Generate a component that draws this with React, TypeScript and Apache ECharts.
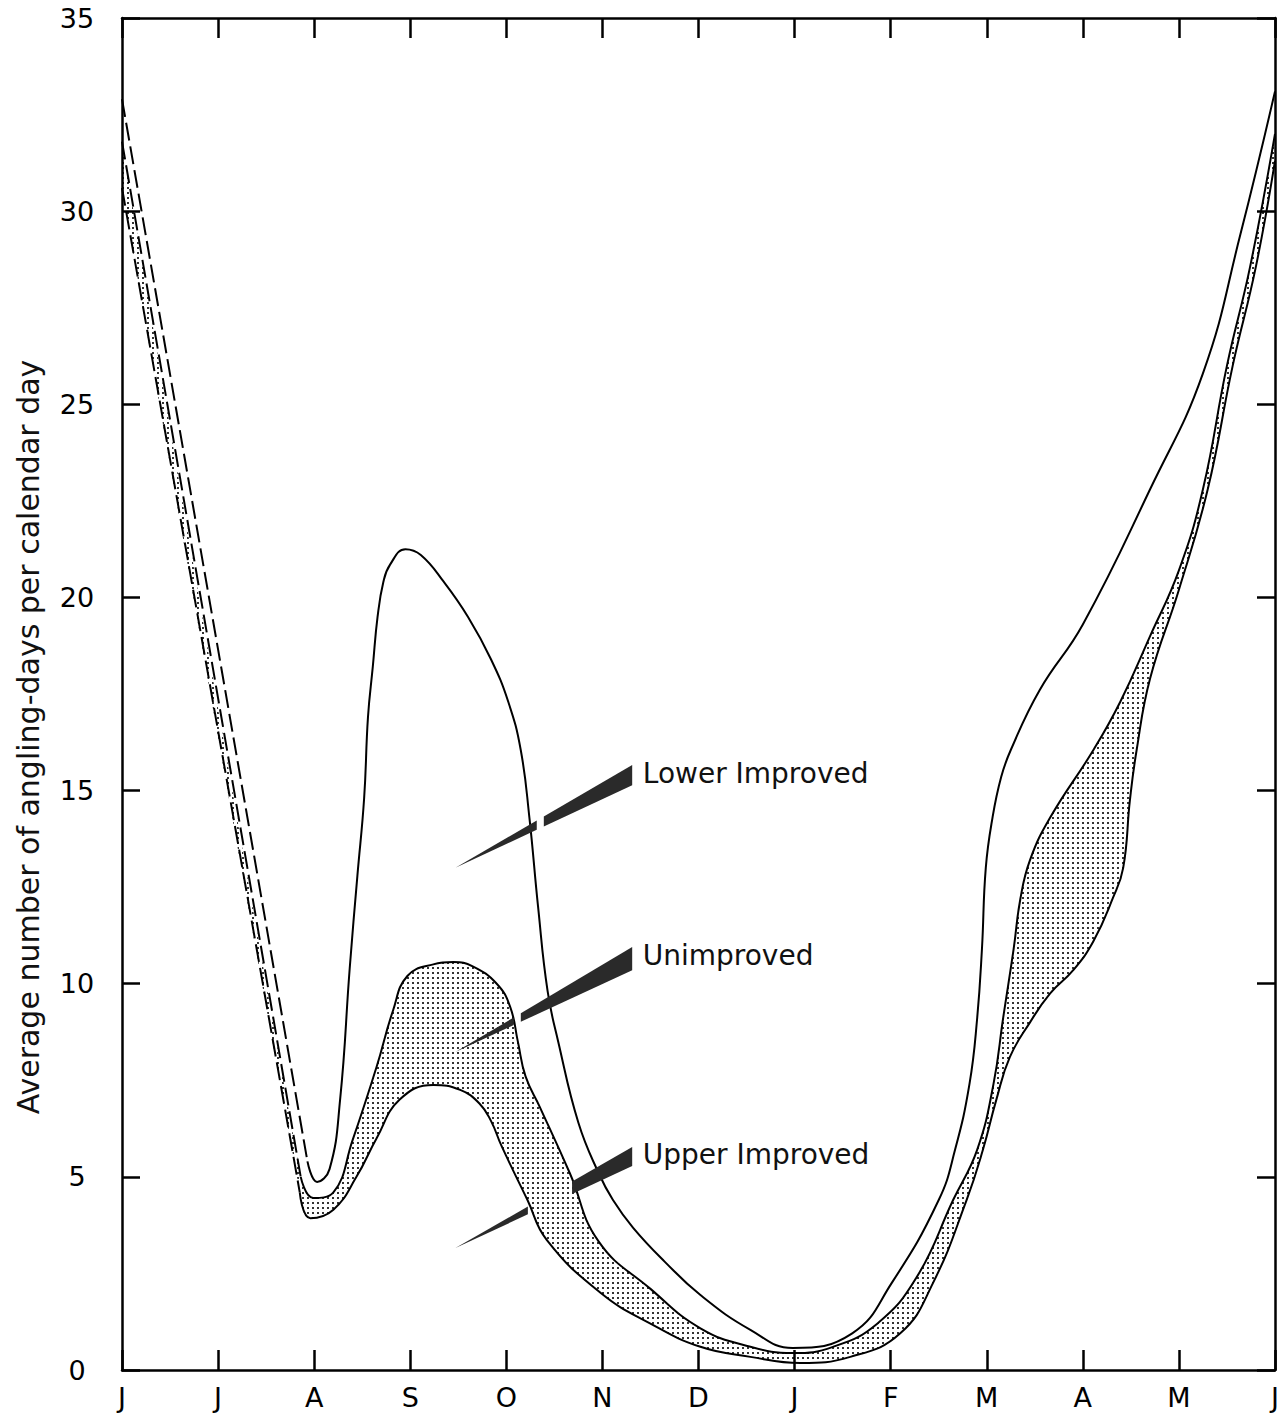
import React, { useEffect, useRef } from "react";
import * as echarts from "echarts";

const MONTHS = ["J", "J", "A", "S", "O", "N", "D", "J", "F", "M", "A", "M", "J"];
const Y_MIN = 0;
const Y_MAX = 35;
const Y_STEP = 5;

// x = months after the first June (0..12), y = angling-days per calendar day
const LOWER_IMPROVED_DASHED = [[0, 32.9], [1.93, 5.4]];
const LOWER_IMPROVED = [
  [1.93, 5.4], [2.03, 4.87], [2.16, 5.2], [2.27, 7.0], [2.37, 10.4], [2.45, 12.8], [2.52, 14.8],
  [2.56, 16.9], [2.61, 18.2], [2.66, 19.5], [2.72, 20.4], [2.79, 20.85], [2.95, 21.25], [3.11, 21.1],
  [3.35, 20.4], [3.6, 19.5], [3.84, 18.4], [4.02, 17.3], [4.15, 16.05], [4.24, 14.3], [4.33, 12.0],
  [4.43, 9.8], [4.54, 8.5], [4.75, 6.4], [4.96, 5.1], [5.11, 4.4], [5.32, 3.68], [5.65, 2.8],
  [6.02, 1.94], [6.54, 1.04], [6.98, 0.57], [7.6, 0.95], [8.01, 2.25], [8.5, 4.4], [8.67, 5.7],
  [8.82, 7.4], [8.9, 9.1], [8.95, 10.9], [8.99, 13.0], [9.06, 14.3], [9.15, 15.35], [9.25, 16.05],
  [9.55, 17.6], [10.0, 19.3], [10.7, 22.8], [11.25, 25.8], [11.64, 29.4], [12, 33.1],
];

const UNIMPROVED_DASHED = [[0, 31.8], [1.86, 5.0]];
const UNIMPROVED = [
  [1.86, 5.0], [1.99, 4.45], [2.2, 4.6], [2.4, 5.95], [2.65, 7.85], [2.82, 9.3], [2.97, 10.2],
  [3.24, 10.5], [3.45, 10.56], [3.65, 10.45], [3.9, 10.0], [4.04, 9.4], [4.12, 8.5], [4.2, 7.6],
  [4.35, 6.8], [4.66, 5.1], [4.96, 3.33], [5.5, 2.1], [6.02, 1.08], [6.54, 0.6], [6.98, 0.44],
  [7.4, 0.6], [7.86, 1.2], [8.27, 2.4], [8.65, 4.4], [8.9, 5.7], [9.07, 7.4], [9.17, 9.1],
  [9.28, 10.9], [9.35, 12.2], [9.45, 13.2], [9.66, 14.3], [10.11, 16.05], [10.39, 17.3],
  [10.7, 19.0], [11.0, 20.7], [11.25, 22.8], [11.5, 26.0], [11.74, 28.55], [12, 32.0],
];

const UPPER_IMPROVED_DASHED = [[0, 30.6], [1.85, 4.6]];
const UPPER_IMPROVED = [
  [1.85, 4.6], [1.96, 3.93], [2.2, 4.15], [2.44, 5.0], [2.65, 6.0], [2.89, 7.0], [3.24, 7.38],
  [3.52, 7.25], [3.72, 6.9], [3.84, 6.45], [3.95, 5.8], [4.22, 4.4], [4.42, 3.37], [4.98, 2.0],
  [5.5, 1.2], [6.02, 0.6], [6.54, 0.34], [7.06, 0.18], [7.58, 0.34], [8.1, 0.95], [8.44, 2.25],
  [8.79, 4.4], [8.96, 5.7], [9.1, 7.0], [9.24, 8.1], [9.45, 9.0], [9.66, 9.75], [9.9, 10.35],
  [10.11, 11.1], [10.31, 12.2], [10.42, 13.0], [10.49, 14.75], [10.56, 16.05], [10.7, 17.9],
  [11.0, 20.2], [11.3, 22.8], [11.56, 26.0], [11.8, 28.55], [12, 31.3],
];

// label pointers (wedges) in data coordinates: tip, thick-top, thick-bottom, label anchor, gaps (fraction of length)
const POINTERS = [
  { name: "Lower Improved", tip: [3.47, 13.0], top: [5.31, 15.66], bottom: [5.31, 15.14], label: [5.42, 15.43], gaps: [[0.46, 0.5]] },
  { name: "Unimproved", tip: [3.47, 8.23], top: [5.31, 10.95], bottom: [5.31, 10.35], label: [5.42, 10.74], gaps: [[0.33, 0.37]] },
  { name: "Upper Improved", tip: [3.47, 3.16], top: [5.31, 5.77], bottom: [5.31, 5.28], label: [5.42, 5.57], gaps: [[0.41, 0.66]] },
];

const Y_TITLE = "Average number of angling-days per calendar day";
const FONT = '"DejaVu Sans", "Noto Sans", sans-serif';

function makeDotPattern() {
  const c = document.createElement("canvas");
  c.width = 5;
  c.height = 5;
  const ctx = c.getContext("2d");
  if (ctx) {
    ctx.fillStyle = "#ffffff";
    ctx.fillRect(0, 0, 5, 5);
    ctx.fillStyle = "#333333";
    ctx.fillRect(2, 2, 2, 2);
  }
  return c;
}

export default function App() {
  const ref = useRef<HTMLDivElement>(null);

  useEffect(() => {
    document.body.style.margin = "0";
    if (!ref.current) return;
    const chart = echarts.init(ref.current, null, { renderer: "svg" });
    const pattern = makeDotPattern();

    const axisLine = { show: true, onZero: false, lineStyle: { color: "#000", width: 2.5 } };
    const tick = (len: number) => ({ show: true, inside: true, length: len, lineStyle: { color: "#000", width: 2.5 } });

    const lineStyle = { color: "#000", width: 2 };
    const dashed = { color: "#000", width: 2, type: [18, 6] as any };

    const full = (d: number[][], s: number[][]) => [...d, ...s.slice(1)];
    const SMOOTH = 0.45;

    chart.setOption({
      animation: false,
      backgroundColor: "#fff",
      grid: { left: 122, right: 11, top: 18, bottom: 46 },
      xAxis: [
        {
          type: "value", min: 0, max: 12, interval: 1, position: "bottom", z: 10,
          axisLine, axisTick: tick(20), splitLine: { show: false },
          axisLabel: {
            formatter: (v: number) => MONTHS[Math.round(v)] ?? "",
            fontSize: 27, color: "#000", fontFamily: FONT, margin: 14,
          },
        },
        {
          type: "value", min: 0, max: 12, interval: 1, position: "top", z: 10,
          axisLine, axisTick: tick(20), splitLine: { show: false }, axisLabel: { show: false },
        },
      ],
      yAxis: [
        {
          type: "value", min: Y_MIN, max: Y_MAX, interval: Y_STEP, position: "left", z: 10,
          axisLine, axisTick: tick(18), splitLine: { show: false },
          axisLabel: { fontSize: 27, color: "#000", fontFamily: FONT, margin: 45, align: "center" },
        },
        {
          type: "value", min: Y_MIN, max: Y_MAX, interval: Y_STEP, position: "right", z: 10,
          axisLine, axisTick: tick(18), splitLine: { show: false }, axisLabel: { show: false },
        },
      ],
      series: [
        {
          name: "band", type: "line", smooth: SMOOTH, symbol: "none", z: 1, silent: true,
          data: full(UNIMPROVED_DASHED, UNIMPROVED),
          lineStyle: { width: 0, opacity: 0 },
          areaStyle: { color: { image: pattern, repeat: "repeat", imageWidth: 5, imageHeight: 5 } as any, opacity: 1 },
        },
        {
          name: "bandMask", type: "line", smooth: SMOOTH, symbol: "none", z: 2, silent: true,
          data: full(UPPER_IMPROVED_DASHED, UPPER_IMPROVED),
          lineStyle: { width: 0, opacity: 0 },
          areaStyle: { color: "#ffffff", opacity: 1 },
        },
        { name: "Lower Improved", type: "line", symbol: "none", z: 3, data: LOWER_IMPROVED_DASHED, lineStyle: dashed },
        { name: "Lower Improved", type: "line", smooth: SMOOTH, symbol: "none", z: 3, data: LOWER_IMPROVED, lineStyle },
        { name: "Unimproved", type: "line", symbol: "none", z: 3, data: UNIMPROVED_DASHED, lineStyle: dashed },
        { name: "Unimproved", type: "line", smooth: SMOOTH, symbol: "none", z: 3, data: UNIMPROVED, lineStyle },
        { name: "Upper Improved", type: "line", symbol: "none", z: 3, data: UPPER_IMPROVED_DASHED, lineStyle: dashed },
        { name: "Upper Improved", type: "line", smooth: SMOOTH, symbol: "none", z: 3, data: UPPER_IMPROVED, lineStyle },
      ],
    });

    const px = (p: number[]) => chart.convertToPixel({ gridIndex: 0 }, p) as number[];
    const graphics: any[] = [];
    POINTERS.forEach((pt) => {
      const t0 = px(pt.tip);
      const a = px(pt.top);
      const b = px(pt.bottom);
      const at = (q: number[], t: number) => [t0[0] + (q[0] - t0[0]) * t, t0[1] + (q[1] - t0[1]) * t];
      const cuts: number[][] = [];
      let s = 0;
      pt.gaps.forEach((g) => { cuts.push([s, g[0]]); s = g[1]; });
      cuts.push([s, 1]);
      cuts.forEach(([u, v]) => {
        graphics.push({
          type: "polygon", z: 50, silent: true,
          shape: { points: [at(a, u), at(a, v), at(b, v), at(b, u)] },
          style: { fill: "#2a2a2a" },
        });
      });
      const l = px(pt.label);
      graphics.push({
        type: "text", z: 50, x: l[0], y: l[1],
        style: { text: pt.name, fontSize: 28, fontFamily: FONT, fill: "#111", align: "left", verticalAlign: "middle" },
      });
    });
    graphics.push({
      type: "text", z: 50, x: 28, y: 737, rotation: Math.PI / 2,
      style: { text: Y_TITLE, fontSize: 30, fontFamily: FONT, fill: "#111", align: "center", verticalAlign: "middle" },
    });
    chart.setOption({ graphic: graphics });

    return () => chart.dispose();
  }, []);

  return <div ref={ref} style={{ position: "absolute", left: 0, top: 0, width: 1286, height: 1416 }} />;
}
